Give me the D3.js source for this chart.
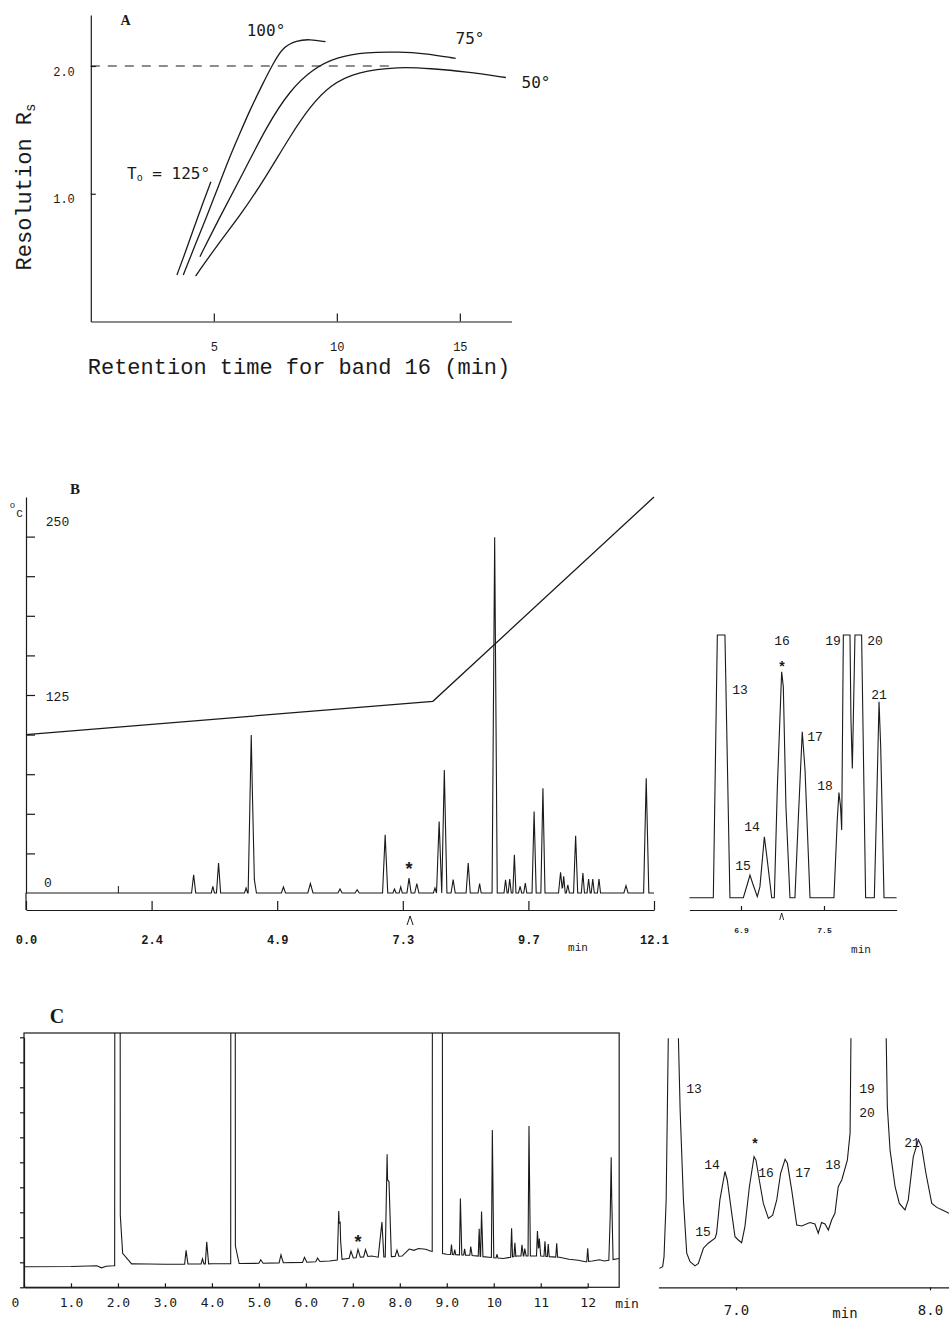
<!DOCTYPE html>
<html><head><meta charset="utf-8">
<script src="https://cdn.jsdelivr.net/npm/d3@7"></script>
<style>
body{margin:0;background:#fff}
svg{display:block}
.ax path,.ax line{stroke:#1a1a1a;stroke-width:1.2;fill:none}
.ax text{fill:#1a1a1a}
</style>
</head><body>
<svg id="fig" width="949" height="1321"></svg>
<script>
// ================= DATA =================
// ---- Panel A : resolution vs retention time (curves per initial temperature)
const aXTicks = [5, 10, 15];
const aYTicks = [1.0, 2.0];
const aCurve125 = [[3.50,0.364],[3.83,0.534],[4.16,0.716],[4.50,0.898],[4.88,1.094]];
const aCurve100 = [[3.76,0.364],[4.16,0.56],[4.71,0.82],[5.18,1.055],[5.65,1.29],[6.06,1.473],[6.47,1.656],[7.0,1.865],[7.41,2.02],[7.82,2.15],[8.36,2.20],[8.90,2.21],[9.54,2.19]];
const aCurve75  = [[4.435,0.507],[5.25,0.82],[6.19,1.16],[7.14,1.525],[8.09,1.81],[9.04,1.98],[9.99,2.07],[11.2,2.11],[12.56,2.11],[13.51,2.10],[14.83,2.06]];
const aCurve50  = [[4.26,0.356],[5.11,0.59],[6.19,0.86],[7.14,1.14],[8.09,1.447],[8.90,1.68],[9.72,1.85],[10.8,1.955],[12.56,1.995],[13.80,1.98],[15.26,1.955],[16.87,1.91]];
const aTarget = [[0, 2.0], [12.4, 2.0]];
const aLabels = ["100°", "75°", "50°", "125°"];

// ---- Panel B : temperature program + chromatogram
const bTimeTicks = [0, 2.42, 4.84, 7.26, 9.68, 12.1];
const bTimeLabels = ["0.0", "2.4", "4.9", "7.3", "9.7", "12.1"];
const bTempTicks = [25, 50, 75, 100, 125, 150, 175, 200, 225];
const bTempLabelVals = [250, 125, 0];
const bTemp = [[0, 100], [7.84, 121], [12.1, 250]];
const bBaseline = [[0, 0], [12.1, 0]];
// [retention time (min), height (deg-C axis units), half width (min)]
const bPeaks = [
 [3.23,11.5,0.04],[3.60,4.2,0.03],[3.71,18.9,0.04],[4.24,3.1,0.03],[4.34,99.7,0.06],[4.40,8.4,0.04],
 [4.96,3.8,0.04],[5.48,5.9,0.05],[6.05,2.5,0.04],[6.38,2.1,0.04],[6.92,36.7,0.05],[7.10,2.5,0.03],
 [7.22,3.8,0.03],[7.38,9.4,0.04],[7.53,5.9,0.04],[7.88,3.1,0.03],[7.96,45.1,0.05],[8.06,77.7,0.05],
 [8.23,8.4,0.04],[8.52,18.9,0.04],[8.74,5.9,0.03],[9.03,224.6,0.05],[9.24,8.4,0.03],[9.32,8.8,0.03],
 [9.41,24.1,0.03],[9.52,4.2,0.03],[9.62,6.3,0.03],[9.79,51.4,0.04],[9.96,66.1,0.04],[10.30,13.0,0.04],
 [10.36,10.5,0.03],[10.44,5.2,0.03],[10.59,36.1,0.04],[10.73,12.6,0.03],[10.84,8.8,0.03],[10.92,8.8,0.03],
 [11.04,8.8,0.03],[11.56,4.6,0.04],[11.95,72.4,0.05]
];
const bEventMarks = [1.78];
const bStarTime = 7.38;
const bCaretTime = 7.40;

// ---- Panel B inset (expanded region, bands 13-21)
const biTicks = [6.9, 7.5];
const biTickLabels = ["6.9", "7.5"];
const biTrace = [
 [6.527,0],[6.700,0],[6.729,100],[6.784,100],[6.820,0],
 [6.917,0],[6.948,5.5],[6.965,8.6],[6.984,5.5],[7.018,0.4],
 [7.037,4.2],[7.069,23.2],[7.090,14.3],[7.122,0],
 [7.141,0],[7.163,42.3],[7.194,86.0],[7.206,80.3],[7.225,34.6],[7.254,0],
 [7.290,0],[7.314,29.6],[7.343,63.2],[7.363,48.6],[7.399,0],
 [7.572,0],[7.596,29.6],[7.608,40.0],[7.620,34.6],[7.628,25.8],[7.640,100],[7.688,100],
 [7.695,67.6],[7.705,49.2],[7.712,67.6],[7.724,100],[7.772,100],[7.801,0],
 [7.864,0],[7.881,35.9],[7.898,74.6],[7.910,57.5],[7.934,0],[8.025,0]
];
const biBands = ["13","14","15","16","17","18","19","20","21"];
const biCaretTime = 7.194;

// ---- Panel C : chromatogram
const cTimeTicks = [0,1,2,3,4,5,6,7,8,9,10,11,12];
const cTimeLabels = ["0","1.0","2.0","3.0","4.0","5.0","6.0","7.0","8.0","9.0","10","11","12"];
const cSignalTicks = [0,10,20,30,40,50,60,70,80,90,100];
const cBaseline = [[0,8.2],[1.0,8.3],[1.55,8.6],[1.65,7.8],[1.75,8.4],[1.9,8.6],[2.3,9.4],[3.0,9.2],[4.0,9.4],
 [5.0,9.6],[6.0,10.0],[6.5,10.5],[6.9,11.5],[7.4,12.5],[7.55,12],[8.05,12.5],[8.2,15.3],[8.3,14.8],[8.4,15.5],
 [8.55,15.2],[8.65,14.5],[9.0,13.2],[9.5,12.8],[9.9,12.0],[10.2,11.5],[10.5,12.5],[11.0,12.5],[11.4,12.0],
 [11.6,11.2],[11.8,10.8],[11.95,10.2],[12.1,10.5],[12.25,11],[12.35,10.5],[12.67,11.5]];
// [time, height above baseline, left half width, right half width]
const cPeaks = [
 [1.99,2000,0.06,0.06],[2.04,17,0.005,0.06],[2.04,6,0.005,0.25],[3.45,5.5,0.03,0.04],[3.80,2.0,0.03,0.03],
 [3.89,8.8,0.03,0.04],[4.45,2000,0.05,0.05],[4.50,7,0.02,0.08],[5.04,1.4,0.04,0.05],[5.47,3.2,0.04,0.05],
 [5.97,2.0,0.04,0.05],[6.25,1.4,0.04,0.05],[6.70,19.5,0.03,0.04],[6.73,10,0.02,0.04],[6.96,2.8,0.04,0.05],
 [7.11,3.2,0.04,0.05],[7.27,2.8,0.04,0.05],[7.62,14,0.08,0.04],[7.73,41,0.04,0.04],[7.77,30,0.03,0.05],
 [7.94,2.5,0.04,0.04],[8.80,3000,0.11,0.11],[9.10,4.0,0.02,0.02],[9.17,2.0,0.02,0.02],[9.29,22.5,0.02,0.03],
 [9.38,2.5,0.02,0.02],[9.51,3.5,0.02,0.03],[9.69,11,0.02,0.02],[9.74,18,0.02,0.03],[9.97,51,0.02,0.03],
 [10.07,1.5,0.02,0.02],[10.38,11.5,0.02,0.02],[10.45,5.5,0.02,0.02],[10.60,4.5,0.02,0.03],[10.66,3,0.02,0.03],
 [10.75,52,0.02,0.03],[10.93,10,0.02,0.03],[10.97,7,0.02,0.03],[11.09,6,0.02,0.02],[11.16,5,0.02,0.02],
 [11.34,5.5,0.02,0.02],[12.00,5.3,0.02,0.02],[12.48,18,0.03,0.03],[12.50,35,0.02,0.04]
];
const cStarTime = 7.11;

// ---- Panel C inset
const ciTicks = [7, 8];
const ciTickLabels = ["7.0", "8.0"];
const ciTrace = [
 [6.605,7.6],[6.622,8.3],[6.629,12.3],[6.640,35],[6.656,130],[6.694,130],[6.712,71.2],[6.729,35.1],
 [6.746,13.7],[6.763,10.3],[6.789,8.6],[6.806,9.6],[6.832,15.7],[6.857,17.7],[6.892,19.7],[6.900,21.7],
 [6.917,35.1],[6.943,46.5],[6.955,43.1],[6.978,29.7],[6.995,20.3],[7.012,19.0],[7.029,17.9],[7.046,24.4],
 [7.069,40.4],[7.093,52.5],[7.103,51.1],[7.120,43.1],[7.141,33.7],[7.167,27.7],[7.189,29.0],[7.210,35.1],
 [7.230,45.8],[7.253,51.4],[7.265,49.8],[7.287,39.1],[7.313,25.0],[7.339,24.6],[7.381,26.0],[7.407,25.4],
 [7.424,21.7],[7.441,26.0],[7.459,25.4],[7.476,23.0],[7.493,27.0],[7.510,29.7],[7.527,40.4],[7.545,43.1],
 [7.574,51.1],[7.588,61.8],[7.596,130],[7.768,130],[7.780,72.6],[7.794,55.2],[7.820,40.4],[7.842,33.7],
 [7.871,31.1],[7.888,35.1],[7.914,52.5],[7.940,59.2],[7.957,56.5],[7.979,45.8],[8.009,33.7],[8.035,32.1],
 [8.069,30.8],[8.098,29.7]
];
const ciBands = ["13","14","15","16","17","18","19","20","21"];

// ================= HELPERS =================
const svg = d3.select("#fig");
const INK = "#1a1a1a";
const MONO = "'Liberation Mono', 'DejaVu Sans Mono', monospace";
const SMONO = "'DejaVu Sans Mono', monospace";
const SERIF = "'Liberation Serif', 'DejaVu Serif', serif";
const STAR = "'Liberation Sans', 'DejaVu Sans', sans-serif";

function tri(p, t) {
  const [c, h, wl, wr] = p;
  if (t < c - wl || t > c + wr) return 0;
  return t <= c ? h * (t - (c - wl)) / wl : h * ((c + wr) - t) / wr;
}
// piecewise-linear trace: baseline vertices + triangular peaks
function buildTrace(baseline, peaks) {
  const t0 = baseline[0][0], t1 = baseline[baseline.length - 1][0];
  const ts = new Set(baseline.map(d => d[0]));
  peaks.forEach(p => { ts.add(p[0] - p[2]); ts.add(p[0]); ts.add(p[0] + p[3]); });
  const bl = d3.scaleLinear(baseline.map(d => d[0]), baseline.map(d => d[1]));
  return [...ts].filter(t => t >= t0 && t <= t1).sort((a, b) => a - b)
    .map(t => [t, bl(t) + d3.sum(peaks, p => tri(p, t))]);
}
function txt(g, x, y, s, size, opts = {}) {
  return g.append("text").attr("x", x).attr("y", y).text(s)
    .attr("font-family", opts.family || MONO).attr("font-size", size)
    .attr("font-weight", opts.weight || "normal")
    .attr("text-anchor", opts.anchor || "middle")
    .attr("dominant-baseline", opts.baseline || "central")
    .attr("fill", INK);
}
function star(g, x, y, size) {
  return txt(g, x, y, "*", size, { family: STAR, weight: "bold" });
}

// ================= PANEL A =================
{
  const g = svg.append("g");
  const x = d3.scaleLinear([0, 17.1], [90.8, 511.5]);
  const y = d3.scaleLinear([0, 2.4], [321.5, 14.9]);

  const xa = g.append("g").attr("class", "ax").attr("transform", `translate(0,${y(0)})`)
    .call(d3.axisBottom(x).tickValues(aXTicks).tickFormat(d3.format("d"))
      .tickSizeInner(-8).tickSizeOuter(0).tickPadding(21));
  xa.selectAll("text").attr("font-family", MONO).attr("font-size", 12);

  const ya = g.append("g").attr("class", "ax").attr("transform", `translate(${x(0)},0)`)
    .call(d3.axisLeft(y).tickValues(aYTicks).tickFormat(d3.format(".1f"))
      .tickSizeInner(-5).tickSizeOuter(0).tickPadding(16));
  ya.selectAll("text").attr("font-family", MONO).attr("font-size", 12).attr("dy", "0.75em");

  const line = d3.line().x(d => x(d[0])).y(d => y(d[1])).curve(d3.curveBasis);
  [aCurve125, aCurve100, aCurve75, aCurve50].forEach(c =>
    g.append("path").attr("d", line(c)).attr("fill", "none").attr("stroke", INK).attr("stroke-width", 1.3));
  g.append("path").attr("d", d3.line().x(d => x(d[0])).y(d => y(d[1]))(aTarget))
    .attr("fill", "none").attr("stroke", INK).attr("stroke-width", 1.1).attr("stroke-dasharray", "9,8");

  txt(g, 125.6, 20, "A", 14, { family: SERIF, weight: "bold" });
  txt(g, 266, 30, aLabels[0], 16, { family: SMONO });
  txt(g, 470, 38, aLabels[1], 16, { family: SMONO });
  txt(g, 536, 82, aLabels[2], 16, { family: SMONO });
  const t = txt(g, 127, 173, "T", 16, { family: SMONO, anchor: "start" });
  t.append("tspan").attr("font-size", 10).attr("dy", 4).text("o");
  t.append("tspan").attr("dy", -4).text(" = " + aLabels[3]);

  txt(g, 299, 368, "Retention time for band 16 (min)", 22);
  const yl = g.append("text").attr("transform", "translate(25,187) rotate(-90)")
    .attr("text-anchor", "middle").attr("dominant-baseline", "central")
    .attr("font-family", MONO).attr("font-size", 22).attr("fill", INK).text("Resolution R");
  yl.append("tspan").attr("font-size", 14).attr("dy", 6).text("s");
}

// ================= PANEL B =================
{
  const g = svg.append("g");
  const x = d3.scaleLinear([0, 12.1], [26, 654]);
  const y = d3.scaleLinear([0, 250], [893, 497]);
  const axisY = 910;

  const xa = g.append("g").attr("class", "ax").attr("transform", `translate(0,${axisY})`)
    .call(d3.axisBottom(x).tickValues(bTimeTicks).tickFormat((d, i) => bTimeLabels[i])
      .tickSizeInner(-9).tickSizeOuter(0).tickPadding(25));
  xa.selectAll("text").attr("font-family", MONO).attr("font-size", 12).attr("font-weight", "bold");

  // left temperature axis (runs down to the time axis)
  g.append("g").attr("class", "ax").attr("transform", `translate(${x(0)},0)`)
    .call(d3.axisLeft(y).tickValues(bTempTicks).tickFormat("").tickSizeInner(-9).tickSizeOuter(0));
  g.append("line").attr("x1", x(0)).attr("x2", x(0)).attr("y1", y(0)).attr("y2", axisY)
    .attr("stroke", INK).attr("stroke-width", 1.2);
  const lblOff = { 250: 25, 125: 2, 0: -10 };
  bTempLabelVals.forEach(v => txt(g, v === 0 ? 48 : 57.5, y(v) + lblOff[v], String(v), 13));
  txt(g, 12.5, 506, "o", 9);
  txt(g, 19.5, 514, "C", 11);
  txt(g, 75, 489, "B", 15, { family: SERIF, weight: "bold" });

  const lin = d3.line().x(d => x(d[0])).y(d => y(d[1]));
  g.append("path").attr("d", lin(bTemp)).attr("fill", "none").attr("stroke", INK).attr("stroke-width", 1.3);

  const trace = buildTrace(bBaseline, bPeaks.map(p => [p[0], p[1], p[2], p[2]]));
  g.append("path").attr("d", lin(trace)).attr("fill", "none").attr("stroke", INK).attr("stroke-width", 1.1);

  bEventMarks.forEach(t => g.append("line").attr("x1", x(t)).attr("x2", x(t))
    .attr("y1", y(0)).attr("y2", y(0) - 7).attr("stroke", INK).attr("stroke-width", 1));
  star(g, x(bStarTime), 869, 18);
  const cx0 = x(bCaretTime);
  g.append("path").attr("d", d3.line()([[cx0 - 3, 925], [cx0, 916], [cx0 + 3, 925]]))
    .attr("fill", "none").attr("stroke", INK).attr("stroke-width", 1);
  txt(g, 578, 948, "min", 11);
}

// ================= PANEL B INSET =================
{
  const g = svg.append("g");
  const x = d3.scaleLinear([6.527, 8.025], [689.4, 896.6]);
  const y = d3.scaleLinear([0, 100], [897.7, 635]);
  const xa = g.append("g").attr("class", "ax").attr("transform", "translate(0,910)")
    .call(d3.axisBottom(x).tickValues(biTicks).tickFormat((d, i) => biTickLabels[i])
      .tickSizeInner(-4).tickSizeOuter(0).tickPadding(17));
  xa.selectAll("text").attr("font-family", MONO).attr("font-size", 8).attr("font-weight", "bold");

  g.append("path").attr("d", d3.line().x(d => x(d[0])).y(d => y(d[1]))(biTrace))
    .attr("fill", "none").attr("stroke", INK).attr("stroke-width", 1.1);

  const pos = [[740,690],[752,827],[743,866],[782,641],[815,737],[825,786],[833,641],[875,641],[879,695]];
  biBands.forEach((b, i) => txt(g, pos[i][0], pos[i][1], b, 13));
  star(g, 782, 666, 14);
  const cx0 = x(biCaretTime);
  g.append("path").attr("d", d3.line()([[cx0 - 2, 920], [cx0, 913], [cx0 + 2, 920]]))
    .attr("fill", "none").attr("stroke", INK).attr("stroke-width", 0.9);
  txt(g, 861, 950, "min", 11);
}

// ================= PANEL C =================
{
  const g = svg.append("g");
  const x = d3.scaleLinear([0, 12], [24, 587.7]);
  const y = d3.scaleLinear([0, 100], [1287.3, 1037.3]);
  const right = x(12.67), top = 1033;

  svg.append("clipPath").attr("id", "clipC").append("rect")
    .attr("x", x(0)).attr("y", top).attr("width", right - x(0)).attr("height", y(0) - top);

  const trace = buildTrace(cBaseline, cPeaks);
  g.append("path").attr("clip-path", "url(#clipC)")
    .attr("d", d3.line().x(d => x(d[0])).y(d => y(d[1]))(trace))
    .attr("fill", "none").attr("stroke", INK).attr("stroke-width", 1.1);

  g.append("rect").attr("x", x(0)).attr("y", top).attr("width", right - x(0)).attr("height", y(0) - top)
    .attr("fill", "none").attr("stroke", INK).attr("stroke-width", 1.2);

  const xa = g.append("g").attr("class", "ax").attr("transform", `translate(0,${y(0)})`)
    .call(d3.axisBottom(x).tickValues(cTimeTicks).tickFormat((d, i) => cTimeLabels[i])
      .tickSizeInner(-4).tickSizeOuter(0).tickPadding(10));
  xa.selectAll("text").attr("font-family", SMONO).attr("font-size", 13)
    .attr("dx", (d, i) => i === 0 ? -9 : 0);
  g.append("g").attr("class", "ax").attr("transform", `translate(${x(0)},0)`)
    .call(d3.axisLeft(y).tickValues(cSignalTicks).tickFormat("").tickSizeInner(4).tickSizeOuter(0));

  txt(g, 627, 1303, "min", 13, { family: SMONO });
  txt(g, 57, 1016, "C", 20, { family: SERIF, weight: "bold" });
  star(g, x(cStarTime), 1242, 18);
}

// ================= PANEL C INSET =================
{
  const g = svg.append("g");
  const x = d3.scaleLinear([6.6, 8.1], [658.4, 949.4]);
  const y = d3.scaleLinear([0, 100], [1287.3, 1038.3]);
  svg.append("clipPath").attr("id", "clipCI").append("rect")
    .attr("x", 650).attr("y", 1038.3).attr("width", 300).attr("height", 260);
  g.append("path").attr("clip-path", "url(#clipCI)")
    .attr("d", d3.line().x(d => x(d[0])).y(d => y(d[1]))(ciTrace))
    .attr("fill", "none").attr("stroke", INK).attr("stroke-width", 1.1);

  const xa = g.append("g").attr("class", "ax").attr("transform", `translate(0,${y(0)})`)
    .call(d3.axisBottom(x).tickValues(ciTicks).tickFormat((d, i) => ciTickLabels[i])
      .tickSizeInner(3).tickSizeOuter(0).tickPadding(15));
  xa.selectAll("text").attr("font-family", SMONO).attr("font-size", 14);
  txt(g, 845, 1313, "min", 14, { family: SMONO });

  const pos = [[694,1089],[712,1165],[703,1232],[766,1173],[803,1173],[833,1165],[867,1089],[867,1113],[912,1143]];
  ciBands.forEach((b, i) => txt(g, pos[i][0], pos[i][1], b, 13));
  star(g, 755, 1143, 14);
}
</script>
</body></html>
